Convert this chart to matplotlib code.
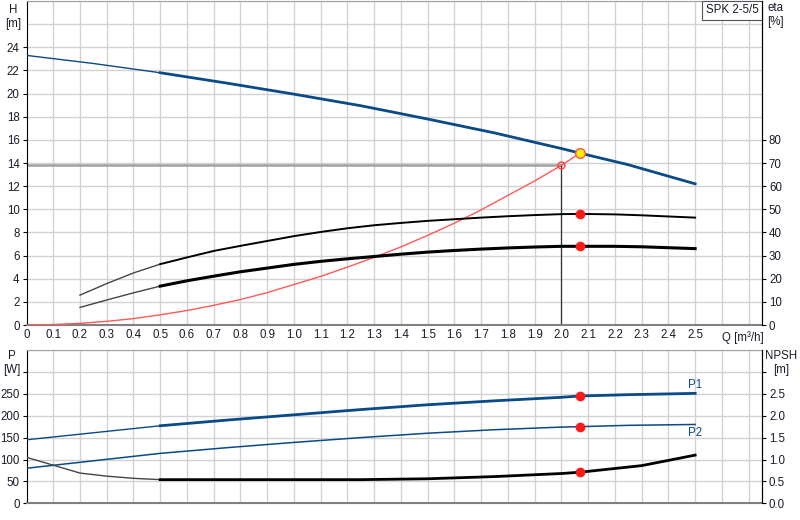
import matplotlib
matplotlib.use("Agg")
import matplotlib.pyplot as plt
import numpy as np

plt.rcParams["font.family"] = ["Liberation Sans", "DejaVu Sans"]

# ---- data ----
q_h = [0, 0.25, 0.5, 0.75, 1.0, 1.25, 1.5, 1.75, 2.0, 2.07, 2.25, 2.5]
h = [23.3, 22.6, 21.8, 20.9, 19.95, 18.95, 17.8, 16.6, 15.25, 14.85, 13.85, 12.2]

q_eta = [0.2, 0.3, 0.4, 0.5, 0.6, 0.7, 0.8, 0.9, 1.0, 1.1, 1.2, 1.3, 1.4, 1.5, 1.6, 1.7,
         1.8, 1.9, 2.0, 2.07, 2.2, 2.3, 2.4, 2.5]
eta_pump = [12.9, 17.9, 22.5, 26.3, 29.2, 32.0, 34.2, 36.3, 38.4, 40.2, 41.8, 43.1, 44.1,
            45.0, 45.7, 46.4, 47.0, 47.5, 47.9, 48.0, 47.8, 47.4, 46.9, 46.4]
eta_total = [7.6, 10.8, 13.9, 16.8, 19.1, 21.1, 23.0, 24.6, 26.2, 27.5, 28.6, 29.6, 30.6,
             31.5, 32.2, 32.8, 33.3, 33.7, 34.0, 34.0, 34.0, 33.8, 33.4, 33.0]

q_sys = [0, 0.1, 0.2, 0.3, 0.4, 0.5, 0.6, 0.7, 0.8, 0.9, 1.0, 1.1, 1.2, 1.3, 1.4, 1.5,
         1.6, 1.7, 1.8, 1.9, 2.0, 2.07]
h_sys = [0, 0.04, 0.14, 0.32, 0.55, 0.88, 1.25, 1.7, 2.2, 2.8, 3.5, 4.2, 5.0, 5.85, 6.75,
         7.75, 8.8, 9.95, 11.2, 12.45, 13.8, 14.85]

q_p = [0, 0.25, 0.5, 0.75, 1.0, 1.25, 1.5, 1.75, 2.0, 2.07, 2.25, 2.5]
p1 = [145, 161, 177, 190, 202, 214, 225, 234, 242, 245, 248, 251]
p2 = [80, 97, 114, 127, 139, 150, 160, 168, 174, 175, 178, 180]

q_npsh = [0, 0.1, 0.2, 0.3, 0.4, 0.5, 0.75, 1.0, 1.25, 1.5, 1.75, 2.0, 2.07, 2.3, 2.5]
npsh = [1.05, 0.87, 0.69, 0.62, 0.57, 0.54, 0.54, 0.54, 0.54, 0.56, 0.61, 0.68, 0.71, 0.86, 1.1]

q_duty, h_duty = 2.07, 14.85
q_req, h_req = 2.0, 13.8
model = "SPK 2-5/5"

x_ticks = [round(0.1 * i, 1) for i in range(26)]
x_labels = ["0"] + [f"{v:.1f}" for v in x_ticks[1:]]

BLUE = "#0a4a86"
GRID = "#d2d2d2"
TXT = "#1a1a2a"
FS = 8.3

fig = plt.figure(figsize=(8, 5.2), dpi=100)
L, R = 26.5 / 800, 762 / 800
ax = fig.add_axes([L, 1 - 325 / 520, R - L, (325 - 1) / 520])
axb = fig.add_axes([L, 1 - 503.3 / 520, R - L, (503.3 - 350) / 520])

grid_x = [round(0.1 * i, 1) for i in range(28)]


def style(a, ymax, ystep):
    a.set_xlim(0, 2.75)
    a.set_ylim(0, ymax)
    for gx in grid_x[1:]:
        a.axvline(gx, color=GRID, lw=1.0, zorder=0)
    for gy in np.arange(ystep, ymax + 0.001, ystep):
        a.axhline(gy, color=GRID, lw=1.0, zorder=0)
    a.spines["top"].set_color("#a0a0a0")
    a.spines["bottom"].set_color("#808080")
    a.spines["bottom"].set_linewidth(1.5)
    a.spines["left"].set_color("black")
    a.spines["right"].set_color("black")
    a.tick_params(axis="y", labelsize=FS, length=3, width=0.8, colors="black", labelcolor=TXT, pad=2)


# ---------- top ----------
style(ax, 28, 2)
ax.set_yticks(range(0, 26, 2))
ax.set_xticks(x_ticks)
ax.set_xticklabels(x_labels)
ax.tick_params(axis="x", labelsize=FS, length=0, labelcolor=TXT, pad=3)

# duty lines
ax.plot([0, q_req], [h_req, h_req], color="#a0a0a0", lw=1.8, zorder=2)
ax.plot([q_req, q_req], [0, h_req], color="#333333", lw=0.9, zorder=2)

# H curve
qh = np.array(q_h); hh = np.array(h)
m = qh <= 0.5
ax.plot(qh[m], hh[m], color=BLUE, lw=1.0, zorder=4)
ax.plot(qh[qh >= 0.5], hh[qh >= 0.5], color=BLUE, lw=2.0, zorder=4)

# system curve
ax.plot(q_sys, h_sys, color="#ff5a5a", lw=1.0, zorder=3)
ax.plot(q_req, h_req, marker="o", ms=5, mfc="none", mec="#ff4040", mew=1.0, zorder=5)
ax.plot(q_duty, h_duty, marker="o", ms=7, mfc="#ffee00", mec="#ff5050", mew=1.0, zorder=6)

axe = ax.twinx()
axe.set_ylim(0, 140)
axe.set_yticks(range(0, 90, 10))
axe.tick_params(axis="y", labelsize=FS, length=3, width=0.8, labelcolor=TXT, pad=2)
for s in ["top", "bottom", "left"]:
    axe.spines[s].set_visible(False)
axe.spines["right"].set_color("black")

qe = np.array(q_eta)
ep = np.array(eta_pump); et = np.array(eta_total)
axe.plot(qe[qe <= 0.5], ep[qe <= 0.5], color="#444444", lw=1.0, zorder=4)
axe.plot(qe[qe >= 0.5], ep[qe >= 0.5], color="black", lw=1.4, zorder=4)
axe.plot(qe[qe <= 0.5], et[qe <= 0.5], color="#444444", lw=1.0, zorder=4)
axe.plot(qe[qe >= 0.5], et[qe >= 0.5], color="black", lw=2.2, zorder=4)
axe.plot([q_duty, q_duty], [eta_pump[q_eta.index(2.07)], eta_total[q_eta.index(2.07)]],
         ls="none", marker="o", ms=6, color="#ff1a1a", zorder=6)

ax.text(2.6, -0.55, "Q [m³/h]", fontsize=FS, color=TXT, ha="left", va="top")
fig.text(13 / 800, 1 - 4 / 520, "H\n[m]", fontsize=FS, color=TXT, ha="center", va="top",
         linespacing=1.25)
fig.text(775 / 800, 1 - 2 / 520, "eta\n[%]", fontsize=FS, color=TXT, ha="center", va="top",
         linespacing=1.25)
ax.text(2.738, 27.7, model, fontsize=FS, color=TXT, ha="right", va="top",
        bbox=dict(boxstyle="square,pad=0.32", fc="white", ec="#555555", lw=0.8), zorder=10)

# ---------- bottom ----------
style(axb, 350, 50)
axb.set_yticks(range(0, 301, 50))
axb.set_yticklabels([str(v) for v in range(0, 251, 50)] + [""])
axb.set_xticks(grid_x)
axb.tick_params(axis="x", labelbottom=False, length=0)

qp = np.array(q_p)
axb.plot(qp[qp <= 0.5], np.array(p1)[qp <= 0.5], color=BLUE, lw=1.0, zorder=4)
axb.plot(qp[qp >= 0.5], np.array(p1)[qp >= 0.5], color=BLUE, lw=2.0, zorder=4)
axb.plot(q_p, p2, color=BLUE, lw=1.1, zorder=4)
axb.plot([q_duty, q_duty], [p1[q_p.index(2.07)], p2[q_p.index(2.07)]], ls="none",
         marker="o", ms=6, color="#ff1a1a", zorder=6)
axb.text(2.5, p1[-1] + 6, "P1", fontsize=FS, color=BLUE, ha="center", va="bottom")
axb.text(2.5, p2[-1] - 6, "P2", fontsize=FS, color=BLUE, ha="center", va="top")

axn = axb.twinx()
axn.set_ylim(0, 3.5)
axn.set_yticks([0, 0.5, 1.0, 1.5, 2.0, 2.5, 3.0])
axn.set_yticklabels(["0.0", "0.5", "1.0", "1.5", "2.0", "2.5", ""])
axn.tick_params(axis="y", labelsize=FS, length=3, width=0.8, labelcolor=TXT, pad=2)
for s in ["top", "bottom", "left"]:
    axn.spines[s].set_visible(False)
axn.spines["right"].set_color("black")
qn = np.array(q_npsh); nn = np.array(npsh)
axn.plot(qn[qn <= 0.5], nn[qn <= 0.5], color="#444444", lw=1.0, zorder=4)
axn.plot(qn[qn >= 0.5], nn[qn >= 0.5], color="black", lw=2.0, zorder=4)
axn.plot(q_duty, npsh[q_npsh.index(2.07)], marker="o", ms=6, color="#ff1a1a", zorder=6)

fig.text(12 / 800, 1 - 350 / 520, "P\n[W]", fontsize=FS, color=TXT, ha="center", va="top",
         linespacing=1.25)
fig.text(781 / 800, 1 - 350 / 520, "NPSH\n[m]", fontsize=FS, color=TXT, ha="center", va="top",
         linespacing=1.25)

fig.savefig("out.png", dpi=100)
